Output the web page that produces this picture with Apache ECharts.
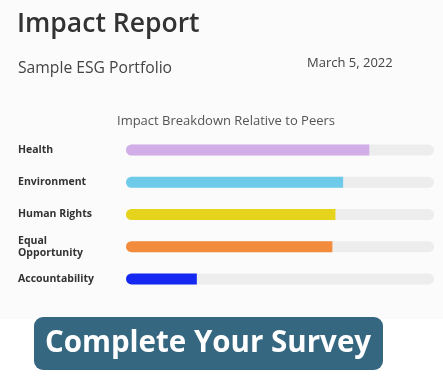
<!DOCTYPE html>
<html>
<head>
<meta charset="utf-8">
<script src="https://cdn.jsdelivr.net/npm/echarts@6/dist/echarts.min.js"></script>
<style>
html,body{margin:0;padding:0;background:#ffffff;}
#chart{width:443px;height:381px;}
</style>
</head>
<body>
<div id="chart"></div>
<script>
const categories = ['Health', 'Environment', 'Human Rights', 'Equal\nOpportunity', 'Accountability'];
const values = [79, 70.5, 68, 67, 23];
const barColors = ['#d1aee8', '#6ecae9', '#e5d41b', '#f28b3b', '#1428f2'];
const reportTitle = 'Impact Report';
const portfolioName = 'Sample ESG Portfolio';
const reportDate = 'March 5, 2022';
const chartTitle = 'Impact Breakdown Relative to Peers';
const buttonText = 'Complete Your Survey';

const chart = echarts.init(document.getElementById('chart'), null, {renderer: 'canvas'});
const FONT = '"Open Sans", "Noto Sans", sans-serif';

chart.setOption({
  animation: false,
  backgroundColor: '#ffffff',
  title: {
    text: chartTitle,
    left: 112,
    top: 110,
    textStyle: {fontFamily: FONT, fontSize: 13, fontWeight: 'normal', color: '#555555'}
  },
  graphic: [
    {type: 'rect', left: 0, top: 0, z: -10, shape: {width: 443, height: 319}, style: {fill: '#fbfbfb'}},
    {type: 'text', left: 17, top: 11, style: {text: reportTitle, font: '600 26.5px ' + FONT, fill: '#333333'}},
    {type: 'text', left: 18, top: 61, style: {text: portfolioName, font: '15.7px ' + FONT, fill: '#444444'}},
    {type: 'text', left: 307, top: 57, style: {text: reportDate, font: '13px ' + FONT, fill: '#444444'}},
    {type: 'rect', left: 34, top: 317, z: 10, shape: {width: 349, height: 53, r: 9}, style: {fill: '#356780'}},
    {type: 'text', z: 11, x: 208, y: 344, style: {text: buttonText, font: 'bold 29.5px ' + FONT, fill: '#ffffff', align: 'center', verticalAlign: 'middle'}}
  ],
  grid: {left: 126, right: 9, top: 134, height: 161},
  xAxis: {type: 'value', min: 0, max: 100, show: false},
  yAxis: {
    type: 'category',
    data: categories,
    inverse: true,
    axisLine: {show: false},
    axisTick: {show: false},
    axisLabel: {
      align: 'left',
      margin: 108,
      fontFamily: FONT,
      fontSize: 10.5,
      fontWeight: 'bold',
      color: '#333333',
      lineHeight: 12
    }
  },
  series: [{
    type: 'bar',
    data: values.map((v, i) => ({value: v, itemStyle: {color: barColors[i]}})),
    barWidth: 11,
    showBackground: true,
    backgroundStyle: {color: '#ededed', borderRadius: 5.5},
    itemStyle: {borderRadius: [5.5, 0, 0, 5.5]}
  }]
});
</script>
</body>
</html>
